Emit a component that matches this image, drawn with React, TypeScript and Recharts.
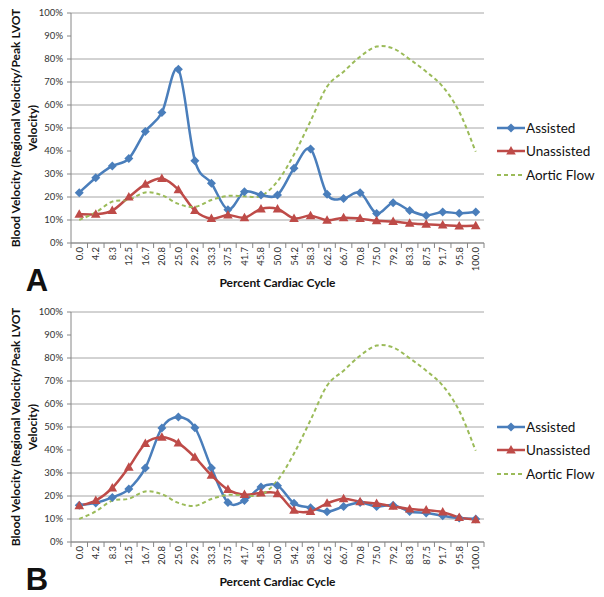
import { LineChart, Line, XAxis, YAxis, CartesianGrid, Legend } from 'recharts';

const BLUE = '#4A7EBB';
const RED = '#BE4B48';
const GREEN = '#9BBB59';
const AXIS = '#868686';
const GRID = '#a6a6a6';
const FONT = 'Lato, "Liberation Sans", sans-serif';

const CYCLE = [
  '0.0', '4.2', '8.3', '12.5', '16.7', '20.8', '25.0', '29.2', '33.3', '37.5', '41.7', '45.8', '50.0',
  '54.2', '58.3', '62.5', '66.7', '70.8', '75.0', '79.2', '83.3', '87.5', '91.7', '95.8', '100.0',
];
const Y_TICKS = [0, 10, 20, 30, 40, 50, 60, 70, 80, 90, 100];

const aorticFlow = [
  10, 13.3, 18, 18.8, 22, 20.8, 17, 15.7, 18.7, 20.5, 20.3, 20.5, 26.8,
  38.5, 53, 68, 74.5, 81, 85.4, 84.6, 79.9, 74.5, 68, 57.1, 39.7,
];

const assistedA = [
  21.9, 28.4, 33.5, 36.7, 48.5, 56.7, 75.5, 35.8, 26, 14.5, 22.3, 20.9, 20.9,
  32.5, 40.9, 21.2, 19.4, 21.9, 12.8, 17.5, 14.1, 12, 13.5, 12.9, 13.5,
];
const unassistedA = [
  12.5, 12.5, 14.1, 20, 25.5, 28, 23.2, 14.1, 10.6, 12.2, 11, 14.8, 14.8,
  10.7, 11.9, 9.9, 11, 10.6, 9.7, 9.3, 8.6, 8.1, 7.8, 7.4, 7.5,
];

const assistedB = [
  16, 17, 19.4, 23, 32.2, 49.6, 54.3, 49.7, 32.2, 17.2, 18, 23.9, 24.5,
  16.8, 14.9, 13.2, 15.4, 17.2, 15.4, 16, 13.3, 12.6, 11.4, 10.4, 10,
];
const unassistedB = [
  15.8, 18, 23.5, 32.5, 42.8, 45.5, 43, 36.8, 29, 22.8, 20.6, 21.3, 21,
  13.8, 13.3, 16.8, 18.8, 17.5, 16.7, 15.5, 14.3, 13.9, 13, 10.7, 9.7,
];

const PLOT_W = 413;
const HALF = PLOT_W / CYCLE.length / 2;

// Excel style smoothing (catmull-rom through every point)
const excelCurve = (context: any) => {
  let pts: number[][] = [];
  return {
    areaStart() {},
    areaEnd() {},
    lineStart() {
      pts = [];
    },
    point(x: number, y: number) {
      pts.push([+x, +y]);
    },
    lineEnd() {
      const n = pts.length;
      if (!n) return;
      context.moveTo(pts[0][0], pts[0][1]);
      for (let i = 0; i < n - 1; i++) {
        const p0 = pts[i - 1] || pts[i];
        const p1 = pts[i];
        const p2 = pts[i + 1];
        const p3 = pts[i + 2] || p2;
        context.bezierCurveTo(
          p1[0] + (p2[0] - p0[0]) / 6,
          p1[1] + (p2[1] - p0[1]) / 6,
          p2[0] - (p3[0] - p1[0]) / 6,
          p2[1] - (p3[1] - p1[1]) / 6,
          p2[0],
          p2[1],
        );
      }
    },
  };
};

function Diamond(props: any) {
  const { cx, cy, index } = props;
  if (cx == null || cy == null) return null;
  const r = 4.5;
  return <path key={`dia-${index}`} d={`M${cx},${cy - r}L${cx + r},${cy}L${cx},${cy + r}L${cx - r},${cy}Z`} fill={BLUE} />;
}

function Triangle(props: any) {
  const { cx, cy, index } = props;
  if (cx == null || cy == null) return null;
  return <path key={`tri-${index}`} d={`M${cx},${cy - 5}L${cx + 4.8},${cy + 3.5}L${cx - 4.8},${cy + 3.5}Z`} fill={RED} />;
}

function XTick(props: any) {
  const { x, y, payload, index, visibleTicksCount } = props;
  const last = index === visibleTicksCount - 1;
  return (
    <g>
      <line x1={x - HALF} x2={x - HALF} y1={y} y2={y + 5} stroke={AXIS} />
      {last && <line x1={x + HALF} x2={x + HALF} y1={y} y2={y + 5} stroke={AXIS} />}
      <text
        x={x}
        y={y + 4}
        transform={`rotate(-90 ${x} ${y + 4})`}
        textAnchor="end"
        dominantBaseline="central"
        fontSize={9.5}
        fill="#333"
      >
        {payload.value}
      </text>
    </g>
  );
}

function YTitle(props: any) {
  const { viewBox } = props;
  const cy = viewBox.y + viewBox.height / 2;
  return (
    <g fontWeight="bold" fontSize={12} fill="#111">
      <text x={15} y={cy} transform={`rotate(-90 15 ${cy})`} textAnchor="middle" dominantBaseline="central">
        Blood Velocity (Regional Velocity/Peak LVOT
      </text>
      <text x={32} y={cy} transform={`rotate(-90 32 ${cy})`} textAnchor="middle" dominantBaseline="central">
        Velocity)
      </text>
    </g>
  );
}

function XTitle(props: any) {
  const { viewBox, letter } = props;
  return (
    <g fill="#111" fontWeight="bold">
      <text x={viewBox.x + viewBox.width / 2} y={viewBox.y + 39} textAnchor="middle" dominantBaseline="central" fontSize={12}>
        Percent Cardiac Cycle
      </text>
      <text x={37} y={viewBox.y + 48} textAnchor="middle" fontSize={31} fontFamily='"Liberation Sans", Arial, sans-serif'>
        {letter}
      </text>
    </g>
  );
}

const LEGEND = [
  { name: 'Assisted', color: BLUE, marker: 'diamond' },
  { name: 'Unassisted', color: RED, marker: 'triangle' },
  { name: 'Aortic Flow', color: GREEN, marker: 'none' },
];

function LegendBox() {
  return (
    <div>
      {LEGEND.map((item) => (
        <div key={item.name} style={{ display: 'flex', alignItems: 'center', height: 23.5 }}>
          <svg width={28} height={12} style={{ display: 'block' }}>
            <line
              x1={0}
              x2={28}
              y1={6}
              y2={6}
              stroke={item.color}
              strokeWidth={item.marker === 'none' ? 2 : 2.5}
              strokeDasharray={item.marker === 'none' ? '4 3' : undefined}
            />
            {item.marker === 'diamond' && <path d="M14,1.5L18.5,6L14,10.5L9.5,6Z" fill={item.color} />}
            {item.marker === 'triangle' && <path d="M14,1L18.8,9.5L9.2,9.5Z" fill={item.color} />}
          </svg>
          <span style={{ marginLeft: 1, fontSize: 13.5, color: '#111', whiteSpace: 'nowrap' }}>{item.name}</span>
        </div>
      ))}
    </div>
  );
}

type PanelProps = { letter: string; assisted: number[]; unassisted: number[] };

function Panel({ letter, assisted, unassisted }: PanelProps) {
  const data = CYCLE.map((c, i) => ({
    cycle: c,
    assisted: assisted[i],
    unassisted: unassisted[i],
    aortic: aorticFlow[i],
  }));

  return (
    <LineChart width={604} height={299} data={data} margin={{ top: 13, right: 120, bottom: 0, left: 0 }}>
      <CartesianGrid vertical={false} stroke={GRID} />
      <XAxis
        dataKey="cycle"
        interval={0}
        height={56}
        padding={{ left: HALF, right: HALF }}
        tickLine={false}
        tickSize={0}
        tickMargin={0}
        stroke={AXIS}
        tick={<XTick />}
        label={<XTitle letter={letter} />}
      />
      <YAxis
        domain={[0, 100]}
        ticks={Y_TICKS}
        width={71}
        stroke={AXIS}
        tickSize={4}
        tickMargin={4}
        tick={{ fontSize: 9.5, fill: '#333' }}
        tickFormatter={(v) => `${v}%`}
        label={<YTitle />}
      />
      <Line
        dataKey="assisted"
        type={excelCurve as any}
        stroke={BLUE}
        strokeWidth={2.5}
        dot={Diamond}
        activeDot={false}
        isAnimationActive={false}
      />
      <Line
        dataKey="unassisted"
        type={excelCurve as any}
        stroke={RED}
        strokeWidth={2.5}
        dot={Triangle}
        activeDot={false}
        isAnimationActive={false}
      />
      <Line
        dataKey="aortic"
        type={excelCurve as any}
        stroke={GREEN}
        strokeWidth={2}
        strokeDasharray="4 3"
        dot={false}
        activeDot={false}
        isAnimationActive={false}
      />
      <Legend
        layout="vertical"
        align="center"
        verticalAlign="middle"
        content={<LegendBox />}
        wrapperStyle={{ left: 497, top: 116, width: 107 }}
      />
    </LineChart>
  );
}

export default function App() {
  return (
    <div style={{ position: 'absolute', left: 0, top: 0, width: 604, height: 597, background: '#fff', fontFamily: FONT }}>
      <Panel letter="A" assisted={assistedA} unassisted={unassistedA} />
      <Panel letter="B" assisted={assistedB} unassisted={unassistedB} />
    </div>
  );
}
